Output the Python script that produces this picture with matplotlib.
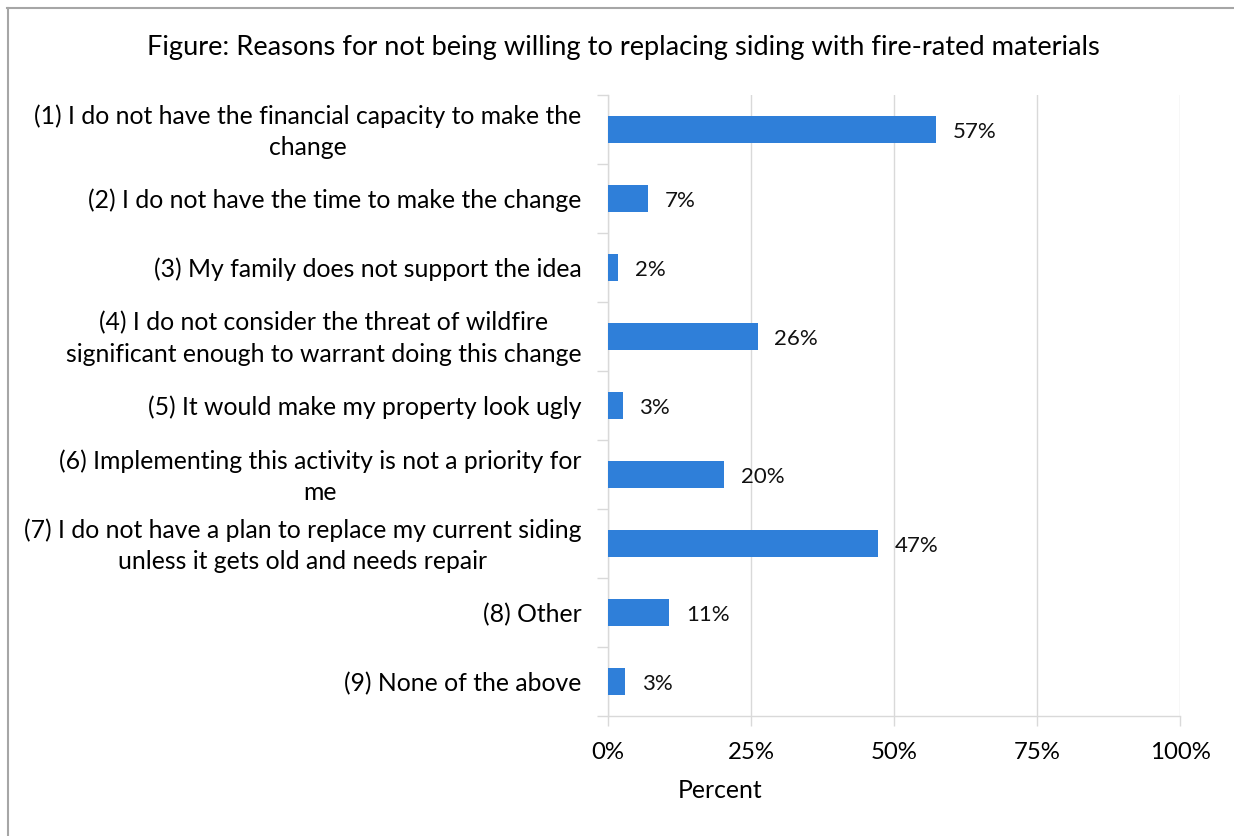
import matplotlib
matplotlib.use("Agg")
import matplotlib.pyplot as plt
from matplotlib.lines import Line2D
from matplotlib.ticker import FuncFormatter
from matplotlib.transforms import ScaledTranslation

plt.rcParams['font.family'] = ['Lato', 'DejaVu Sans']

categories = [
    "(1) I do not have the financial capacity to make the\nchange",
    "(2) I do not have the time to make the change",
    "(3) My family does not support the idea",
    "(4) I do not consider the threat of wildfire\nsignificant enough to warrant doing this change",
    "(5) It would make my property look ugly",
    "(6) Implementing this activity is not a priority for\nme",
    "(7) I do not have a plan to replace my current siding\nunless it gets old and needs repair",
    "(8) Other",
    "(9) None of the above",
]
values = [57.3, 7.0, 1.8, 26.2, 2.6, 20.3, 47.2, 10.7, 3.0]
x_ticks = [0, 25, 50, 75, 100]
title = "Figure: Reasons for not being willing to replacing siding with fire-rated materials"
x_label = "Percent"

W, H = 1234, 836
fig = plt.figure(figsize=(W / 100, H / 100), dpi=100)
ax = fig.add_axes([608 / W, 1 - 716 / H, (1180 - 608) / W, (716 - 95) / H])

pos = list(range(len(categories)))
ax.barh(pos, values, height=0.4, color="#2F7FD9", zorder=3)
ax.set_ylim(len(categories) - 0.5, -0.5)
ax.set_xlim(0, 100)

for p, v in zip(pos, values):
    ax.text(v + 2.9, p + 0.03, f"{round(v):.0f}%", va="center", ha="left",
            fontsize=16, color="#111111")

ax.set_yticks(pos)
ax.set_yticklabels(categories, fontsize=17.8, ha="right", multialignment="center",
                   linespacing=1.42)
ax.tick_params(axis="y", length=0, pad=19)
# nudge two-line labels up slightly to centre them on the bars
for lbl in ax.get_yticklabels():
    if "\n" in lbl.get_text():
        lbl.set_transform(lbl.get_transform() + ScaledTranslation(0, 4 / 100, fig.dpi_scale_trans))
# minor ticks at category boundaries
ax.set_yticks([p - 0.5 for p in pos] + [len(pos) - 0.5], minor=True)
ax.tick_params(axis="y", which="minor", length=8, color="#d9d9d9", width=1)

ax.set_xticks(x_ticks)
ax.xaxis.set_major_formatter(FuncFormatter(lambda v, _: f"{v:.0f}%"))
ax.tick_params(axis="x", length=7, color="#d9d9d9", width=1, labelsize=17.3, pad=12)
ax.grid(axis="x", color="#d9d9d9", linewidth=1, zorder=0)
ax.set_xlabel(x_label, fontsize=17.8, labelpad=10)
ax.xaxis.set_label_coords((720 - 608) / 572, -(790 - 716) / (716 - 95))
ax.xaxis.label.set_va("center")

for side in ["top", "right"]:
    ax.spines[side].set_visible(False)
for side in ["left", "bottom"]:
    ax.spines[side].set_color("#d9d9d9")
    ax.spines[side].set_linewidth(1)

fig.text(0.5 * (147 + 1100) / W, 1 - 47 / H, title, ha="center", va="center", fontsize=19.6)

# outer border (top and left only visible)
fig.add_artist(Line2D([7 / W, 1], [1 - 7.5 / H, 1 - 7.5 / H], transform=fig.transFigure,
                      color="#a6a6a6", linewidth=1.5))
fig.add_artist(Line2D([7.5 / W, 7.5 / W], [0, 1 - 7.5 / H], transform=fig.transFigure,
                      color="#a6a6a6", linewidth=1.5))

fig.savefig("out.png", dpi=100, facecolor="white")
